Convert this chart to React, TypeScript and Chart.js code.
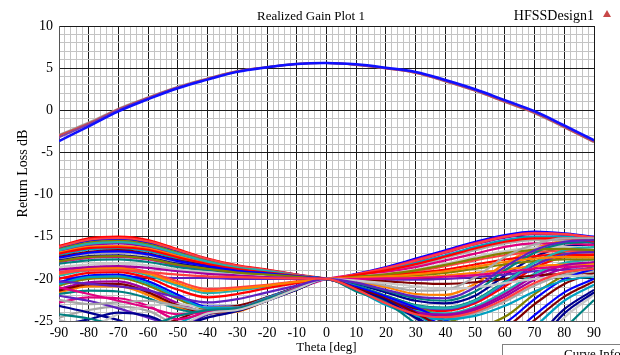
import React, { useEffect, useRef } from 'react';
import { Chart, registerables } from 'chart.js';

Chart.register(...registerables);

// ---------- data ----------
const THETA = [-90, -80, -70, -60, -50, -40, -30, -20, -10, 0, 10, 20, 30, 40, 50, 60, 70, 80, 90];

const X_MIN = -90;
const X_MAX = 90;
const Y_MIN = -25;
const Y_MAX = 10;
const X_MAJOR = 10;
const Y_MAJOR = 5;

// realized gain bundle (top)
const GAIN_A = [-2.9, -1.45, 0.2, 1.55, 2.8, 3.78, 4.65, 5.13, 5.52, 5.6, 5.38, 4.97, 4.45, 3.42, 2.3, 0.98, -0.35, -2.05, -3.8];
const GAIN_B = [-3.0, -1.55, 0.12, 1.5, 2.75, 3.75, 4.62, 5.12, 5.5, 5.6, 5.38, 4.96, 4.43, 3.45, 2.33, 1.0, -0.3, -2.0, -3.75];
const GAIN_C = [-3.2, -1.67, 0.04, 1.43, 2.7, 3.7, 4.6, 5.1, 5.5, 5.6, 5.4, 5.0, 4.5, 3.5, 2.4, 1.1, -0.2, -1.9, -3.65];
const GAIN_D = [-3.65, -1.9, -0.12, 1.32, 2.62, 3.64, 4.56, 5.1, 5.5, 5.62, 5.45, 5.05, 4.55, 3.6, 2.5, 1.2, -0.1, -1.8, -3.55];

// return-loss sweep curves (bottom)
const RL01 = [-16.1, -15.2, -15.0, -15.4, -16.5, -17.6, -18.4, -18.9, -19.5, -20, -21.0, -22.3, -23.5, -23.8, -22.9, -20.9, -18.7, -17.4, -17.1];
const RL02 = [-16.3, -15.5, -15.3, -15.7, -16.7, -17.7, -18.5, -19.0, -19.5, -20, -19.4, -18.6, -17.6, -16.6, -15.6, -14.8, -14.4, -14.6, -15.0];
const RL03 = [-16.5, -15.7, -15.5, -15.9, -16.9, -17.9, -18.6, -19.0, -19.6, -20, -20.9, -22.0, -23.2, -24.6, -25.6, -24.5, -21.8, -19.6, -18.5];
const RL04 = [-16.7, -16.0, -15.8, -16.2, -17.1, -18.0, -18.7, -19.1, -19.6, -20, -19.5, -18.8, -17.9, -16.9, -15.9, -15.1, -14.7, -14.8, -15.2];
const RL05 = [-16.9, -16.2, -16.1, -16.4, -17.3, -18.2, -18.8, -19.2, -19.6, -20, -20.3, -21.0, -21.8, -21.9, -20.6, -18.2, -16.4, -15.5, -15.4];
const RL06 = [-17.2, -16.5, -16.4, -16.7, -17.6, -18.3, -18.9, -19.3, -19.7, -20, -19.5, -18.9, -18.1, -17.2, -16.2, -15.4, -15.0, -15.0, -15.4];
const RL07 = [-17.4, -16.8, -16.6, -17.0, -17.8, -18.4, -19.0, -19.3, -19.7, -20, -21.0, -22.2, -23.6, -25.2, -26.5, -25.8, -23.0, -20.6, -19.3];
const RL08 = [-17.6, -17.0, -16.9, -17.2, -18.0, -18.6, -19.1, -19.4, -19.7, -20, -19.6, -19.1, -18.4, -17.5, -16.6, -15.8, -15.4, -15.4, -15.7];
const RL09 = [-17.8, -17.3, -17.2, -17.5, -18.2, -18.7, -19.2, -19.5, -19.7, -20, -20.6, -21.6, -22.6, -22.9, -22.0, -19.6, -17.4, -16.2, -15.9];
const RL10 = [-18.0, -17.5, -17.4, -17.7, -18.4, -18.9, -19.3, -19.5, -19.8, -20, -19.7, -19.2, -18.6, -17.8, -17.0, -16.2, -15.8, -15.8, -16.0];
const RL11 = [-18.2, -17.8, -17.7, -18.0, -18.6, -19.0, -19.4, -19.6, -19.8, -20, -20.8, -22.0, -23.1, -23.4, -22.5, -20.3, -18.0, -16.8, -16.5];
const RL12 = [-18.6, -18.3, -18.2, -18.4, -18.9, -19.2, -19.5, -19.7, -19.9, -20, -19.7, -19.4, -18.9, -18.2, -17.4, -16.7, -16.3, -16.2, -16.4];
const RL13 = [-19.9, -19.8, -19.8, -19.8, -19.9, -19.9, -20.0, -20.0, -20.0, -20, -20.0, -20.1, -20.1, -20.0, -19.8, -19.5, -19.1, -18.9, -18.8];
const RL14 = [-19.2, -18.7, -18.6, -19.2, -20.3, -21.2, -21.0, -20.7, -20.3, -20, -19.8, -19.5, -19.1, -18.5, -17.8, -17.2, -16.8, -16.7, -16.8];
const RL15 = [-19.6, -19.0, -18.9, -19.6, -20.8, -21.7, -21.4, -20.9, -20.4, -20, -21.1, -22.6, -23.8, -24.1, -23.3, -21.5, -19.4, -18.1, -17.7];
const RL16 = [-20.0, -19.3, -19.2, -19.9, -21.3, -22.2, -21.8, -21.1, -20.5, -20, -19.8, -19.6, -19.3, -18.9, -18.3, -17.7, -17.3, -17.1, -17.2];
const RL17 = [-20.4, -19.6, -19.5, -20.3, -21.9, -23.3, -23.3, -22.2, -21.0, -20, -21.1, -22.3, -23.9, -25.7, -27.3, -27.0, -24.3, -21.6, -20.0];
const RL18 = [-20.8, -20.0, -19.9, -20.8, -22.4, -23.6, -23.5, -22.3, -21.1, -20, -19.9, -19.8, -19.6, -19.3, -18.8, -18.3, -17.9, -17.7, -17.7];
const RL19 = [-21.2, -20.4, -20.3, -21.3, -22.9, -23.9, -23.7, -22.5, -21.2, -20, -21.2, -22.8, -24.1, -24.4, -23.7, -22.1, -20.1, -18.8, -18.4];
const RL20 = [-21.6, -20.9, -20.9, -21.9, -23.4, -24.1, -23.9, -22.6, -21.3, -20, -20.0, -19.9, -19.8, -19.6, -19.3, -18.9, -18.5, -18.3, -18.2];
const RL21 = [-30.0, -29.0, -28.0, -27.0, -25.3, -23.9, -23.6, -22.5, -21.2, -20, -21.2, -22.4, -24.2, -26.2, -28.0, -28.3, -25.7, -22.6, -20.7];
const RL22 = [-29.0, -28.0, -27.0, -26.0, -24.8, -23.5, -23.2, -22.2, -21.0, -20, -20.1, -20.3, -20.5, -20.6, -20.4, -20.0, -19.6, -19.4, -19.3];
const RL23 = [-24.6, -23.7, -23.3, -23.8, -25.3, -24.5, -23.8, -22.6, -21.3, -20, -21.3, -23.0, -24.3, -24.7, -24.1, -22.7, -20.8, -19.5, -19.1];
const RL24 = [-23.2, -24.0, -24.9, -26.0, -26.0, -24.2, -23.7, -22.5, -21.2, -20, -21.3, -22.5, -24.5, -26.7, -28.8, -29.6, -27.2, -23.6, -21.3];
const RL25 = [-22.8, -22.2, -22.3, -23.2, -24.8, -24.0, -23.6, -22.4, -21.2, -20, -19.45, -18.7, -17.75, -16.75, -15.75, -14.95, -14.55, -14.7, -15.1];
const RL26 = [-21.8, -21.4, -21.5, -22.3, -23.6, -24.0, -23.5, -22.4, -21.1, -20, -20.5, -21.4, -22.3, -22.6, -21.5, -19.0, -16.9, -15.8, -15.6];
const RL27 = [-24.9, -25.6, -24.2, -23.2, -23.0, -23.4, -23.4, -22.3, -21.1, -20, -21.4, -22.6, -24.8, -27.2, -29.6, -31.0, -28.8, -24.6, -21.9];
const RL28 = [-22.0, -22.6, -23.5, -24.6, -25.5, -24.2, -23.6, -22.5, -21.2, -20, -20.9, -22.2, -23.3, -23.6, -22.7, -20.6, -18.4, -17.1, -16.8];
const RL29 = [-16.2, -15.35, -15.15, -15.55, -16.6, -17.65, -18.45, -18.95, -19.5, -20, -19.45, -18.75, -17.85, -16.85, -15.85, -15.0, -14.6, -14.7, -15.1];
const RL30 = [-16.6, -15.85, -15.65, -16.05, -17.0, -17.95, -18.65, -19.05, -19.6, -20, -20.9, -22.1, -23.2, -23.5, -22.6, -20.4, -18.1, -16.6, -16.2];
const RL31 = [-17.0, -16.35, -16.25, -16.55, -17.45, -18.25, -18.85, -19.25, -19.65, -20, -19.55, -19.0, -18.25, -17.35, -16.4, -15.6, -15.2, -15.2, -15.55];
const RL32 = [-17.5, -16.9, -16.75, -17.1, -17.9, -18.5, -19.05, -19.35, -19.7, -20, -20.95, -22.1, -23.4, -24.9, -26.0, -25.2, -22.4, -20.0, -18.8];
const RL33 = [-17.9, -17.4, -17.3, -17.6, -18.3, -18.8, -19.25, -19.5, -19.75, -20, -19.75, -19.45, -19.0, -18.35, -17.6, -16.95, -16.55, -16.45, -16.6];
const RL34 = [-18.9, -18.6, -18.5, -18.7, -19.1, -19.4, -19.6, -19.8, -19.9, -20, -21.15, -22.7, -23.95, -24.25, -23.5, -21.8, -19.7, -18.4, -18.0];
const RL35 = [-19.4, -18.85, -18.75, -19.4, -20.55, -21.45, -21.2, -20.8, -20.35, -20, -19.85, -19.7, -19.45, -19.1, -18.55, -18.0, -17.6, -17.4, -17.45];
const RL36 = [-20.6, -19.8, -19.7, -20.55, -22.15, -23.45, -23.4, -22.25, -21.05, -20, -21.35, -23.1, -24.4, -24.8, -24.4, -23.2, -21.5, -20.2, -19.7];
const RL37 = [-21.4, -20.65, -20.6, -21.6, -23.15, -24.0, -23.8, -22.55, -21.25, -20, -21.15, -22.35, -24.05, -25.95, -27.7, -27.6, -24.9, -22.1, -20.3];
const RL38 = [-22.5, -23.0, -22.8, -22.6, -23.2, -23.8, -23.6, -22.5, -21.2, -20, -20.2, -20.8, -21.4, -21.3, -19.8, -17.4, -15.9, -15.2, -15.2];
const RL39 = [-25.5, -24.8, -24.0, -24.4, -25.6, -24.6, -23.8, -22.6, -21.3, -20, -21.35, -22.55, -24.65, -26.95, -29.2, -30.3, -28.0, -24.1, -21.6];
const RL40 = [-21.0, -21.8, -22.6, -23.4, -24.2, -23.9, -23.5, -22.4, -21.1, -20, -20.0, -19.95, -19.9, -19.75, -19.55, -19.2, -18.8, -18.55, -18.5];
const RL41 = [-24.2, -24.7, -25.4, -25.4, -24.4, -23.7, -23.5, -22.4, -21.2, -20, -21.5, -22.8, -25.3, -28.0, -30.5, -32.5, -30.5, -26.0, -22.5];
const RL42 = [-31.0, -30.0, -29.0, -28.0, -25.8, -24.1, -23.7, -22.6, -21.2, -20, -20.2, -20.5, -20.9, -21.2, -21.0, -20.5, -20.0, -19.7, -19.6];
const RL43 = [-20.3, -20.6, -20.9, -21.4, -22.2, -22.8, -22.4, -21.6, -20.8, -20, -20.45, -21.3, -22.1, -22.3, -21.0, -18.6, -16.6, -15.6, -15.4];
const RL44 = [-19.3, -19.0, -19.0, -19.2, -19.5, -19.7, -19.8, -19.9, -19.95, -20, -21.25, -22.9, -24.2, -24.55, -23.9, -22.4, -20.5, -19.2, -18.8];

const RETURN_LOSS_CURVES = [
  RL01, RL02, RL03, RL04, RL05, RL06, RL07, RL08, RL09, RL10, RL11,
  RL12, RL13, RL14, RL15, RL16, RL17, RL18, RL19, RL20, RL21, RL22,
  RL23, RL24, RL25, RL26, RL27, RL28, RL29, RL30, RL31, RL32, RL33,
  RL34, RL35, RL36, RL37, RL38, RL39, RL40, RL41, RL42, RL43, RL44,
];
const GAIN_CURVES = [GAIN_A, GAIN_B, GAIN_C, GAIN_D];

const CURVE_COLORS = [
  '#ff0000', '#0000ff', '#808000', '#a000a0', '#ff8000', '#00a0c0',
  '#800000', '#a8a8a8', '#000090', '#e00080', '#008080', '#c8c8c8',
  '#6020c0', '#ff4040', '#20b0b0',
];
const GAIN_COLORS = ['#a0a0a0', '#d04848', '#8040a0', '#1010ff'];

const SERIF = '"Liberation Serif", "Times New Roman", serif';

const pts = (ys: number[]) => ys.map((y, i) => ({ x: THETA[i], y }));

const textPlugin = {
  id: 'hfssText',
  afterDraw(chart: any) {
    const ctx = chart.ctx as CanvasRenderingContext2D;
    ctx.save();
    ctx.fillStyle = '#000';
    ctx.textBaseline = 'middle';
    ctx.font = `13px ${SERIF}`;
    ctx.textAlign = 'center';
    ctx.fillText('Realized Gain Plot 1', 311, 17);
    ctx.font = `14px ${SERIF}`;
    ctx.textAlign = 'right';
    ctx.fillText('HFSSDesign1', 594, 16);
    // small red marker
    ctx.fillStyle = '#c84848';
    ctx.beginPath();
    ctx.moveTo(607, 10);
    ctx.lineTo(611, 17);
    ctx.lineTo(603, 17);
    ctx.closePath();
    ctx.fill();
    // legend box (cut by the page edge)
    ctx.fillStyle = '#fff';
    ctx.fillRect(502, 344, 130, 20);
    ctx.strokeStyle = '#808080';
    ctx.lineWidth = 1;
    ctx.strokeRect(502.5, 344.5, 130, 20);
    ctx.fillStyle = '#000';
    ctx.font = `13px ${SERIF}`;
    ctx.textAlign = 'left';
    ctx.textBaseline = 'top';
    ctx.fillText('Curve Info', 564, 348);
    ctx.restore();
  },
};

export default function App() {
  const ref = useRef<HTMLCanvasElement>(null);

  useEffect(() => {
    const drawOrder: any[] = [];
    RETURN_LOSS_CURVES.forEach((c, i) => {
      drawOrder.push({
        data: pts(c),
        borderColor: CURVE_COLORS[i % CURVE_COLORS.length],
        borderWidth: 2.2,
        cubicInterpolationMode: 'monotone',
      });
    });
    GAIN_CURVES.forEach((c, i) => {
      drawOrder.push({
        data: pts(c),
        borderColor: GAIN_COLORS[i],
        borderWidth: i === GAIN_CURVES.length - 1 ? 2.5 : 2,
        cubicInterpolationMode: 'default',
        tension: 0.4,
      });
    });
    // Chart.js paints the first dataset last, so reverse
    const datasets = drawOrder.reverse();

    const gridColor = (major: number) => (ctx: any) =>
      ctx.tick && Math.round(ctx.tick.value) % major === 0 ? '#1a1a1a' : '#c4c4c4';

    const chart = new Chart(ref.current as HTMLCanvasElement, {
      type: 'line',
      data: { datasets },
      options: {
        animation: false,
        responsive: false,
        devicePixelRatio: 1,
        layout: { padding: { top: 26, right: 26, left: 0, bottom: 0 } },
        plugins: {
          legend: { display: false },
          tooltip: { enabled: false },
          title: { display: false },
        },
        elements: {
          point: { radius: 0 },
          line: { tension: 0.4, fill: false },
        },
        scales: {
          x: {
            type: 'linear',
            min: X_MIN,
            max: X_MAX,
            afterFit: (s: any) => {
              s.height = 34;
            },
            ticks: {
              stepSize: 2,
              autoSkip: false,
              maxRotation: 0,
              minRotation: 0,
              padding: 4,
              color: '#000',
              font: { family: SERIF, size: 14 },
              callback: (v: any) => (Math.round(v) % X_MAJOR === 0 ? String(Math.round(v)) : ''),
            },
            grid: { color: gridColor(X_MAJOR), lineWidth: 1, drawTicks: false },
            border: { display: true, color: '#555', width: 1 },
            title: {
              display: true,
              text: 'Theta [deg]',
              color: '#000',
              font: { family: SERIF, size: 13 },
              padding: { top: 0, bottom: 0 },
            },
          },
          y: {
            type: 'linear',
            min: Y_MIN,
            max: Y_MAX,
            afterFit: (s: any) => {
              s.width = 59;
            },
            ticks: {
              stepSize: 1,
              autoSkip: false,
              padding: 6,
              color: '#000',
              font: { family: SERIF, size: 14 },
              callback: (v: any) => (Math.round(v) % Y_MAJOR === 0 ? String(Math.round(v)) : ''),
            },
            grid: { color: gridColor(Y_MAJOR), lineWidth: 1, drawTicks: false },
            border: { display: true, color: '#555', width: 1 },
            title: {
              display: true,
              text: 'Return Loss dB',
              color: '#000',
              font: { family: SERIF, size: 14 },
              padding: { top: 15, bottom: 0 },
            },
          },
        },
      } as any,
      plugins: [textPlugin],
    });
    return () => chart.destroy();
  }, []);

  return (
    <div style={{ position: 'fixed', left: 0, top: 0, width: 620, height: 355, background: '#fff' }}>
      <canvas ref={ref} width={620} height={355} style={{ display: 'block' }} />
    </div>
  );
}
